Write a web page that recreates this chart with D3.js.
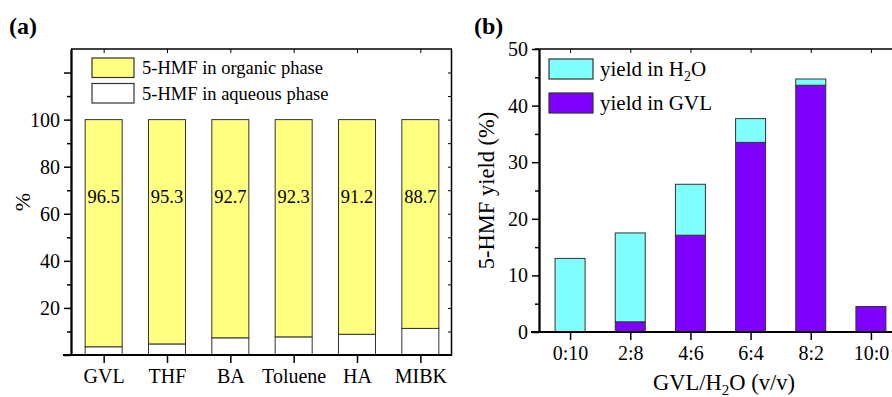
<!DOCTYPE html>
<html>
<head>
<meta charset="utf-8">
<script src="https://cdn.jsdelivr.net/npm/d3@7"></script>
<style>
  html, body { margin: 0; padding: 0; background: #fff; }
  svg { display: block; font-family: "Liberation Serif", "Times New Roman", serif; }
</style>
</head>
<body>
<svg id="chart" width="892" height="397"></svg>
<script>
// ---------- data ----------
const catsA = ["GVL", "THF", "BA", "Toluene", "HA", "MIBK"];
const organicPhase = [96.5, 95.3, 92.7, 92.3, 91.2, 88.7];
const aqueousPhase = [3.5, 4.7, 7.3, 7.7, 8.8, 11.3];
const ticksAMajor = [0, 20, 40, 60, 80, 100, 120];
const ticksALabels = [20, 40, 60, 80, 100];
const ticksAMinor = [10, 30, 50, 70, 90, 110];

const catsB = ["0:10", "2:8", "4:6", "6:4", "8:2", "10:0"];
const yieldGVL = [0, 1.8, 17.1, 33.5, 43.6, 4.5];
const yieldH2O = [13.0, 15.7, 9.0, 4.2, 1.1, 0];
const ticksBMajor = [0, 10, 20, 30, 40, 50];
const ticksBMinor = [5, 15, 25, 35, 45];

// ---------- setup ----------
const svg = d3.select("#chart");
svg.append("rect").attr("width", 892).attr("height", 397).attr("fill", "#fff");

const COL_YEL = "#ffff80", COL_CYAN = "#80ffff", COL_PURP = "#8000ff";
const BAR_STROKE = "#333";

function styleAxis(g, width) {
  g.select(".domain").attr("stroke", "#000").attr("stroke-width", width || 1.8);
  g.selectAll(".tick line").attr("stroke", "#000").attr("stroke-width", 1.5);
  g.selectAll(".tick text").attr("fill", "#000").style("font-family", '"Liberation Serif", "Times New Roman", serif');
}

// ================= Panel (a) =================
const aL = 71, aR = 451, aT = 49, aB = 355;
const xA = d3.scalePoint().domain(catsA).range([aL + 1, aR + 1]).padding(0.5);
const yA = d3.scaleLinear().domain([0, 130]).range([aB, aT]);
const bwA = 37;

const tableA = catsA.map((c, i) => ({ cat: c, aqueous: aqueousPhase[i], organic: organicPhase[i] }));
const stackA = d3.stack().keys(["aqueous", "organic"])(tableA);
const colorA = { aqueous: "#ffffff", organic: COL_YEL };

const gA = svg.append("g");
stackA.forEach(layer => {
  gA.append("g").selectAll("rect").data(layer).join("rect")
    .attr("x", d => xA(d.data.cat) - bwA / 2)
    .attr("width", bwA)
    .attr("y", d => yA(d[1]))
    .attr("height", d => yA(d[0]) - yA(d[1]))
    .attr("fill", colorA[layer.key])
    .attr("stroke", BAR_STROKE)
    .attr("stroke-width", 1);
});

// labels in bars
gA.append("g").selectAll("text").data(tableA).join("text")
  .attr("x", d => xA(d.cat))
  .attr("y", yA(64.5))
  .attr("text-anchor", "middle")
  .attr("font-size", 18.5)
  .text(d => d.organic.toFixed(1));

// axes (a)
const axALeft = svg.append("g").attr("transform", `translate(${aL},0)`)
  .call(d3.axisLeft(yA).tickValues(ticksAMajor).tickSize(7).tickSizeOuter(0).tickPadding(4)
    .tickFormat(d => ticksALabels.includes(d) ? d : ""));
axALeft.selectAll(".tick text").attr("font-size", 20);
styleAxis(axALeft);
const axALeftMinor = svg.append("g").attr("transform", `translate(${aL},0)`)
  .call(d3.axisLeft(yA).tickValues(ticksAMinor).tickSize(4).tickSizeOuter(0).tickFormat(""));
styleAxis(axALeftMinor);

const axARight = svg.append("g").attr("transform", `translate(${aR},0)`)
  .call(d3.axisLeft(yA).tickValues(ticksAMajor.concat(ticksAMinor)).tickSize(3).tickSizeOuter(0).tickFormat(""));
styleAxis(axARight, 1.5);
axARight.selectAll(".tick line").attr("stroke-width", 1);

const axABottom = svg.append("g").attr("transform", `translate(0,${aB})`)
  .call(d3.axisBottom(xA).tickSize(8).tickSizeOuter(0).tickPadding(6));
axABottom.select(".domain").attr("d", `M${aL - 8},0H${aR + 1}`);
axABottom.selectAll(".tick text").attr("font-size", 20);
styleAxis(axABottom);

const axATop = svg.append("g").attr("transform", `translate(0,${aT})`)
  .call(d3.axisBottom(xA).tickSize(4).tickSizeOuter(0).tickFormat(""));
axATop.select(".domain").attr("d", `M${aL},0H${aR + 1}`);
styleAxis(axATop, 1.6);
axATop.selectAll(".tick line").attr("stroke-width", 1);

// legend (a)
const legA = svg.append("g");
[["5-HMF in organic phase", COL_YEL], ["5-HMF in aqueous phase", "#ffffff"]].forEach((it, i) => {
  legA.append("rect").attr("x", 92).attr("y", 58 + i * 25.5).attr("width", 42).attr("height", 19.5)
    .attr("fill", it[1]).attr("stroke", "#333").attr("stroke-width", 1.2);
  legA.append("text").attr("x", 142).attr("y", 74 + i * 26).attr("font-size", 18.5).text(it[0]);
});

// axis title (a)
svg.append("text").attr("transform", `translate(30,${(aT + aB) / 2}) rotate(-90)`)
  .attr("text-anchor", "middle").attr("font-size", 22).text("%");
svg.append("text").attr("x", 9).attr("y", 34).attr("font-size", 24).attr("font-weight", "bold").text("(a)");

// ================= Panel (b) =================
const bL = 539, bR = 901, bT = 49, bB = 332;
const xB = d3.scalePoint().domain(catsB).range([bL + 1, bR]).padding(0.5);
const yB = d3.scaleLinear().domain([0, 50]).range([bB, bT]);
const bwB = 30;

const tableB = catsB.map((c, i) => ({ cat: c, gvl: yieldGVL[i], h2o: yieldH2O[i] }));
const stackB = d3.stack().keys(["gvl", "h2o"])(tableB);
const colorB = { gvl: COL_PURP, h2o: COL_CYAN };

const gB = svg.append("g");
stackB.forEach(layer => {
  gB.append("g").selectAll("rect").data(layer.filter(d => d[1] - d[0] > 0)).join("rect")
    .attr("x", d => xB(d.data.cat) - bwB / 2)
    .attr("width", bwB)
    .attr("y", d => yB(d[1]))
    .attr("height", d => yB(d[0]) - yB(d[1]))
    .attr("fill", colorB[layer.key])
    .attr("stroke", BAR_STROKE)
    .attr("stroke-width", 1);
});

const axBLeft = svg.append("g").attr("transform", `translate(${bL},0)`)
  .call(d3.axisLeft(yB).tickValues(ticksBMajor).tickSize(7).tickSizeOuter(0).tickPadding(4));
axBLeft.selectAll(".tick text").attr("font-size", 20);
styleAxis(axBLeft);
const axBLeftMinor = svg.append("g").attr("transform", `translate(${bL},0)`)
  .call(d3.axisLeft(yB).tickValues(ticksBMinor).tickSize(4).tickSizeOuter(0).tickFormat(""));
styleAxis(axBLeftMinor);

const axBBottom = svg.append("g").attr("transform", `translate(0,${bB})`)
  .call(d3.axisBottom(xB).tickSize(8).tickSizeOuter(0).tickPadding(6));
axBBottom.select(".domain").attr("d", `M${bL - 8},0H${bR}`);
axBBottom.selectAll(".tick text").attr("font-size", 20);
styleAxis(axBBottom);

const axBTop = svg.append("g").attr("transform", `translate(0,${bT})`)
  .call(d3.axisBottom(xB).tickSize(4).tickSizeOuter(0).tickFormat(""));
axBTop.select(".domain").attr("d", `M${bL - 4},0H${bR}`);
styleAxis(axBTop, 1.6);
axBTop.selectAll(".tick line").attr("stroke-width", 1);

// legend (b)
const legB = svg.append("g");
const legItemsB = [["yield in H", "2", "O", COL_CYAN], ["yield in GVL", "", "", COL_PURP]];
legItemsB.forEach((it, i) => {
  legB.append("rect").attr("x", 549).attr("y", 59 + i * 34).attr("width", 44).attr("height", 20)
    .attr("fill", it[3]).attr("stroke", "#333").attr("stroke-width", 1.2);
  const t = legB.append("text").attr("x", 600).attr("y", 76 + i * 34).attr("font-size", 21);
  t.append("tspan").text(it[0]);
  if (it[1]) {
    t.append("tspan").attr("font-size", 14).attr("dy", 5).text(it[1]);
    t.append("tspan").attr("dy", -5).text(it[2]);
  }
});

// axis titles (b)
svg.append("text").attr("transform", `translate(494,${(bT + bB) / 2}) rotate(-90)`)
  .attr("text-anchor", "middle").attr("font-size", 22.5).text("5-HMF yield (%)");
const xt = svg.append("text").attr("x", 724).attr("y", 390).attr("text-anchor", "middle").attr("font-size", 22.5);
xt.append("tspan").text("GVL/H");
xt.append("tspan").attr("font-size", 15).attr("dy", 5).text("2");
xt.append("tspan").attr("dy", -5).text("O (v/v)");

svg.append("text").attr("x", 474).attr("y", 34).attr("font-size", 24).attr("font-weight", "bold").text("(b)");
</script>
</body>
</html>
